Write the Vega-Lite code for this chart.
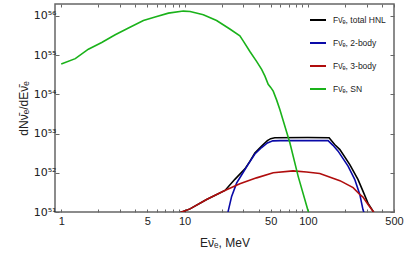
{
  "$schema": "https://vega.github.io/schema/vega-lite/v6.json",
  "width": 339,
  "height": 208,
  "autosize": {"type": "none"},
  "padding": {"left": 55, "top": 4, "right": 21, "bottom": 42},
  "background": "white",
  "config": {
    "font": "Liberation Sans",
    "view": {"stroke": "#666666", "strokeWidth": 1.5},
    "axis": {"grid": false, "domain": false, "tickColor": "#666666", "labelColor": "#222222", "titleColor": "#222222", "titleFontWeight": "normal", "labelFont": "Liberation Sans", "titleFont": "Liberation Sans"}
  },
  "data": {
    "values": [
      {"series": "Fν̄ₑ, total HNL", "E": 9.0, "F": 9.3e50},
      {"series": "Fν̄ₑ, total HNL", "E": 9.49, "F": 1.0e51},
      {"series": "Fν̄ₑ, total HNL", "E": 11.08, "F": 1.2e51},
      {"series": "Fν̄ₑ, total HNL", "E": 15.1, "F": 2.09e51},
      {"series": "Fν̄ₑ, total HNL", "E": 21.3, "F": 3.55e51},
      {"series": "Fν̄ₑ, total HNL", "E": 25.6, "F": 6.8e51},
      {"series": "Fν̄ₑ, total HNL", "E": 30.9, "F": 1.26e52},
      {"series": "Fν̄ₑ, total HNL", "E": 33.9, "F": 1.95e52},
      {"series": "Fν̄ₑ, total HNL", "E": 37.2, "F": 3.2e52},
      {"series": "Fν̄ₑ, total HNL", "E": 42.2, "F": 4.8e52},
      {"series": "Fν̄ₑ, total HNL", "E": 47, "F": 6.6e52},
      {"series": "Fν̄ₑ, total HNL", "E": 50, "F": 7.4e52},
      {"series": "Fν̄ₑ, total HNL", "E": 54, "F": 7.8e52},
      {"series": "Fν̄ₑ, total HNL", "E": 100, "F": 7.9e52},
      {"series": "Fν̄ₑ, total HNL", "E": 148.8, "F": 7.8e52},
      {"series": "Fν̄ₑ, total HNL", "E": 165, "F": 5.25e52},
      {"series": "Fν̄ₑ, total HNL", "E": 182, "F": 3.9e52},
      {"series": "Fν̄ₑ, total HNL", "E": 219, "F": 1.62e52},
      {"series": "Fν̄ₑ, total HNL", "E": 255, "F": 6.8e51},
      {"series": "Fν̄ₑ, total HNL", "E": 280, "F": 3.4e51},
      {"series": "Fν̄ₑ, total HNL", "E": 308, "F": 1.66e51},
      {"series": "Fν̄ₑ, total HNL", "E": 338, "F": 1.05e51},
      {"series": "Fν̄ₑ, total HNL", "E": 350, "F": 8.5e50},
      {"series": "Fν̄ₑ, 2-body", "E": 22.3, "F": 9.0e50},
      {"series": "Fν̄ₑ, 2-body", "E": 22.6, "F": 1.05e51},
      {"series": "Fν̄ₑ, 2-body", "E": 24.1, "F": 2.5e51},
      {"series": "Fν̄ₑ, 2-body", "E": 26.5, "F": 5.5e51},
      {"series": "Fν̄ₑ, 2-body", "E": 29.1, "F": 8.9e51},
      {"series": "Fν̄ₑ, 2-body", "E": 32.9, "F": 1.66e52},
      {"series": "Fν̄ₑ, 2-body", "E": 37.2, "F": 3.0e52},
      {"series": "Fν̄ₑ, 2-body", "E": 42.2, "F": 4.4e52},
      {"series": "Fν̄ₑ, 2-body", "E": 47, "F": 5.75e52},
      {"series": "Fν̄ₑ, 2-body", "E": 52, "F": 6.5e52},
      {"series": "Fν̄ₑ, 2-body", "E": 60, "F": 6.6e52},
      {"series": "Fν̄ₑ, 2-body", "E": 146, "F": 6.6e52},
      {"series": "Fν̄ₑ, 2-body", "E": 160, "F": 5.0e52},
      {"series": "Fν̄ₑ, 2-body", "E": 176, "F": 3.55e52},
      {"series": "Fν̄ₑ, 2-body", "E": 212, "F": 1.48e52},
      {"series": "Fν̄ₑ, 2-body", "E": 240, "F": 6.8e51},
      {"series": "Fν̄ₑ, 2-body", "E": 264, "F": 2.8e51},
      {"series": "Fν̄ₑ, 2-body", "E": 280, "F": 1.15e51},
      {"series": "Fν̄ₑ, 2-body", "E": 286, "F": 9.5e50},
      {"series": "Fν̄ₑ, 2-body", "E": 290, "F": 8.0e50},
      {"series": "Fν̄ₑ, 3-body", "E": 9.0, "F": 9.3e50},
      {"series": "Fν̄ₑ, 3-body", "E": 9.49, "F": 1.0e51},
      {"series": "Fν̄ₑ, 3-body", "E": 11.08, "F": 1.2e51},
      {"series": "Fν̄ₑ, 3-body", "E": 15.1, "F": 2.09e51},
      {"series": "Fν̄ₑ, 3-body", "E": 20.6, "F": 3.39e51},
      {"series": "Fν̄ₑ, 3-body", "E": 28.1, "F": 5.25e51},
      {"series": "Fν̄ₑ, 3-body", "E": 38.4, "F": 7.41e51},
      {"series": "Fν̄ₑ, 3-body", "E": 52.4, "F": 1.0e52},
      {"series": "Fν̄ₑ, 3-body", "E": 76, "F": 1.12e52},
      {"series": "Fν̄ₑ, 3-body", "E": 97.6, "F": 1.05e52},
      {"series": "Fν̄ₑ, 3-body", "E": 125, "F": 9.6e51},
      {"series": "Fν̄ₑ, 3-body", "E": 182, "F": 6.3e51},
      {"series": "Fν̄ₑ, 3-body", "E": 233, "F": 4.17e51},
      {"series": "Fν̄ₑ, 3-body", "E": 264, "F": 2.8e51},
      {"series": "Fν̄ₑ, 3-body", "E": 280, "F": 2.4e51},
      {"series": "Fν̄ₑ, 3-body", "E": 308, "F": 1.55e51},
      {"series": "Fν̄ₑ, 3-body", "E": 338, "F": 1.05e51},
      {"series": "Fν̄ₑ, 3-body", "E": 350, "F": 8.5e50},
      {"series": "Fν̄ₑ, SN", "E": 1.0, "F": 5.9e54},
      {"series": "Fν̄ₑ, SN", "E": 1.3, "F": 8.1e54},
      {"series": "Fν̄ₑ, SN", "E": 1.66, "F": 1.41e55},
      {"series": "Fν̄ₑ, SN", "E": 2.13, "F": 2.09e55},
      {"series": "Fν̄ₑ, SN", "E": 2.74, "F": 3.3e55},
      {"series": "Fν̄ₑ, SN", "E": 3.51, "F": 4.9e55},
      {"series": "Fν̄ₑ, SN", "E": 4.64, "F": 7.6e55},
      {"series": "Fν̄ₑ, SN", "E": 5.77, "F": 9.3e55},
      {"series": "Fν̄ₑ, SN", "E": 7.4, "F": 1.17e56},
      {"series": "Fν̄ₑ, SN", "E": 9.78, "F": 1.32e56},
      {"series": "Fν̄ₑ, SN", "E": 11.1, "F": 1.29e56},
      {"series": "Fν̄ₑ, SN", "E": 14.2, "F": 1.07e56},
      {"series": "Fν̄ₑ, SN", "E": 18.2, "F": 7.6e55},
      {"series": "Fν̄ₑ, SN", "E": 23.3, "F": 4.6e55},
      {"series": "Fν̄ₑ, SN", "E": 28.1, "F": 3.1e55},
      {"series": "Fν̄ₑ, SN", "E": 29.9, "F": 2.3e55},
      {"series": "Fν̄ₑ, SN", "E": 33.9, "F": 1.23e55},
      {"series": "Fν̄ₑ, SN", "E": 38.4, "F": 6.9e54},
      {"series": "Fν̄ₑ, SN", "E": 42.2, "F": 4.3e54},
      {"series": "Fν̄ₑ, SN", "E": 44.9, "F": 2.9e54},
      {"series": "Fν̄ₑ, SN", "E": 47.7, "F": 1.8e54},
      {"series": "Fν̄ₑ, SN", "E": 50, "F": 1.5e54},
      {"series": "Fν̄ₑ, SN", "E": 52.4, "F": 1.2e54},
      {"series": "Fν̄ₑ, SN", "E": 55.8, "F": 7.2e53},
      {"series": "Fν̄ₑ, SN", "E": 59.3, "F": 4.1e53},
      {"series": "Fν̄ₑ, SN", "E": 71.5, "F": 5.8e52},
      {"series": "Fν̄ₑ, SN", "E": 83.5, "F": 8.1e51},
      {"series": "Fν̄ₑ, SN", "E": 100.7, "F": 1.05e51},
      {"series": "Fν̄ₑ, SN", "E": 103, "F": 8.0e50}
    ]
  },
  "layer": [
    {
      "mark": {"type": "line", "strokeWidth": 1.6, "clip": true},
      "encoding": {
        "x": {
          "field": "E", "type": "quantitative",
          "scale": {"type": "log", "domain": [0.89, 500], "nice": false},
          "axis": {
            "orient": "bottom",
            "values": [1,2,3,4,5,6,7,8,9,10,20,30,40,50,60,70,80,90,100,200,300,400,500],
            "labelExpr": "indexof([1,5,10,50,100,500], datum.value) >= 0 ? datum.label : ''",
            "tickSize": -3, "tickWidth": 1,
            "labelFontSize": 11, "labelPadding": 6, "labelFlush": false,
            "title": "Eν̄ₑ, MeV", "titleFontSize": 12, "titlePadding": 11
          }
        },
        "y": {
          "field": "F", "type": "quantitative",
          "scale": {"type": "log", "domain": [1e51, 2e56], "nice": false},
          "axis": {
            "orient": "left",
            "values": [1e51, 1e52, 1e53, 1e54, 1e55, 1e56],
            "labelExpr": "'10' + (round(log(datum.value)/LN10) == 51 ? '⁵¹' : round(log(datum.value)/LN10) == 52 ? '⁵²' : round(log(datum.value)/LN10) == 53 ? '⁵³' : round(log(datum.value)/LN10) == 54 ? '⁵⁴' : round(log(datum.value)/LN10) == 55 ? '⁵⁵' : '⁵⁶')",
            "tickSize": -4, "tickWidth": 1,
            "labelFont": "DejaVu Sans", "labelFontSize": 11, "labelPadding": 3, "labelFlush": false,
            "title": "dNν̄ₑ/dEν̄ₑ", "titleFontSize": 12, "titlePadding": 3
          }
        },
        "color": {
          "field": "series", "type": "nominal",
          "scale": {
            "domain": ["Fν̄ₑ, total HNL", "Fν̄ₑ, 2-body", "Fν̄ₑ, 3-body", "Fν̄ₑ, SN"],
            "range": ["#000000", "#0a0aa8", "#b00d0d", "#1ab21a"]
          },
          "legend": {
            "title": null, "orient": "none", "legendX": 254, "legendY": 7,
            "symbolType": "stroke", "symbolSize": 256, "symbolStrokeWidth": 2,
            "labelFontSize": 8.5, "labelColor": "#222222", "labelOffset": 6,
            "rowPadding": 9
          }
        }
      }
    },
    {
      "mark": {"type": "line", "opacity": 0, "clip": true},
      "encoding": {
        "x": {
          "field": "E", "type": "quantitative",
          "scale": {"type": "log", "domain": [0.89, 500], "nice": false},
          "axis": {
            "orient": "top", "labels": false, "title": null,
            "values": [1,2,3,4,5,6,7,8,9,10,20,30,40,50,60,70,80,90,100,200,300,400,500],
            "tickSize": -3, "tickWidth": 1
          }
        },
        "y": {
          "field": "F", "type": "quantitative",
          "scale": {"type": "log", "domain": [1e51, 2e56], "nice": false},
          "axis": {
            "orient": "right", "labels": false, "title": null,
            "values": [1e51, 1e52, 1e53, 1e54, 1e55, 1e56],
            "tickSize": -4, "tickWidth": 1
          }
        }
      }
    }
  ],
  "resolve": {"axis": {"x": "independent", "y": "independent"}}
}
